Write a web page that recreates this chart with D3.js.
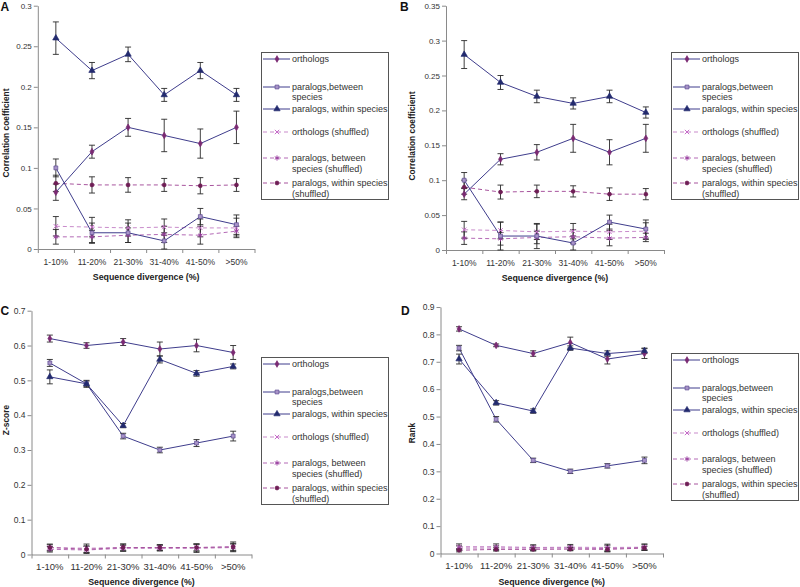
<!DOCTYPE html>
<html><head><meta charset="utf-8">
<script src="https://cdn.jsdelivr.net/npm/d3@7/dist/d3.min.js"></script>
<style>body{margin:0;background:#fff}svg{display:block;font-family:"Liberation Sans",Arial,sans-serif}</style>
</head><body>
<script>
const categories = ["1-10%","11-20%","21-30%","31-40%","41-50%",">50%"];
const seriesNames = ["orthologs","paralogs,between species","paralogs, within species","orthologs (shuffled)","paralogs, between species (shuffled)","paralogs, within species (shuffled)"];
const legendLines = [["orthologs"],["paralogs,between","species"],["paralogs, within species"],["orthologs (shuffled)"],["paralogs, between","species (shuffled)"],["paralogs, within species","(shuffled)"]];

// Panel A: correlation coefficient
const valuesA = [
 [0.07,0.12,0.15,0.14,0.13,0.15],
 [0.10,0.02,0.02,0.01,0.04,0.03],
 [0.26,0.22,0.24,0.19,0.22,0.19],
 [0.028,0.027,0.026,0.027,0.026,0.026],
 [0.015,0.015,0.017,0.018,0.017,0.022],
 [0.081,0.079,0.079,0.079,0.078,0.079]];
const errorsA = [
 [0.01,0.008,0.011,0.02,0.018,0.02],
 [0.011,0.012,0.012,0.01,0.01,0.012],
 [0.02,0.01,0.009,0.008,0.01,0.008],
 [0.012,0.012,0.01,0.01,0.011,0.012],
 [0.009,0.008,0.009,0.01,0.011,0.006],
 [0.01,0.01,0.009,0.008,0.01,0.008]];
const ticksA = [0,0.05,0.1,0.15,0.2,0.25,0.3];

// Panel B: correlation coefficient
const valuesB = [
 [0.08,0.13,0.14,0.16,0.14,0.16],
 [0.10,0.02,0.02,0.01,0.04,0.03],
 [0.28,0.24,0.22,0.21,0.22,0.197],
 [0.029,0.028,0.026,0.027,0.026,0.027],
 [0.017,0.016,0.018,0.019,0.017,0.018],
 [0.09,0.083,0.084,0.084,0.08,0.08]];
const errorsB = [
 [0.008,0.008,0.011,0.02,0.018,0.02],
 [0.011,0.02,0.018,0.01,0.01,0.013],
 [0.02,0.01,0.009,0.008,0.009,0.008],
 [0.012,0.012,0.011,0.011,0.011,0.012],
 [0.009,0.009,0.009,0.01,0.011,0.006],
 [0.01,0.01,0.009,0.008,0.009,0.008]];
const ticksB = [0,0.05,0.1,0.15,0.2,0.25,0.3,0.35];

// Panel C: Z-score
const valuesC = [
 [0.62,0.60,0.61,0.59,0.60,0.58],
 [0.55,0.49,0.34,0.30,0.32,0.34],
 [0.51,0.49,0.37,0.56,0.52,0.54],
 [0.02,0.018,0.02,0.02,0.02,0.022],
 [0.015,0.013,0.018,0.018,0.018,0.02],
 [0.02,0.015,0.02,0.02,0.02,0.022]];
const errorsC = [
 [0.01,0.008,0.01,0.02,0.018,0.02],
 [0.01,0.008,0.008,0.008,0.01,0.014],
 [0.02,0.01,0.006,0.01,0.008,0.007],
 [0.01,0.012,0.01,0.008,0.01,0.014],
 [0.008,0.01,0.008,0.008,0.012,0.01],
 [0.008,0.01,0.01,0.008,0.01,0.01]];
const ticksC = [0,0.1,0.2,0.3,0.4,0.5,0.6,0.7];

// Panel D: Rank
const valuesD = [
 [0.82,0.76,0.73,0.77,0.71,0.73],
 [0.75,0.49,0.34,0.30,0.32,0.34],
 [0.71,0.55,0.52,0.75,0.73,0.74],
 [0.025,0.025,0.022,0.023,0.022,0.023],
 [0.02,0.02,0.02,0.02,0.018,0.022],
 [0.012,0.015,0.015,0.016,0.015,0.02]];
const errorsD = [
 [0.008,0.005,0.01,0.02,0.018,0.018],
 [0.01,0.01,0.008,0.008,0.008,0.012],
 [0.018,0.008,0.008,0.008,0.01,0.01],
 [0.01,0.01,0.01,0.01,0.012,0.012],
 [0.008,0.008,0.008,0.008,0.012,0.01],
 [0.006,0.006,0.006,0.006,0.008,0.006]];
const ticksD = [0,0.1,0.2,0.3,0.4,0.5,0.6,0.7,0.8,0.9];

const xTitle = "Sequence divergence (%)";

// styles per series
const seriesStyle = [
 {line:"#3f3d8c", dash:null, sym:d3.symbolDiamond, size:13, fill:"#7a2a72", stroke:"#7a2a72"},
 {line:"#3f3d8c", dash:null, sym:d3.symbolSquare, size:15, fill:"#a893c8", stroke:"#5c4c92"},
 {line:"#3f3d8c", dash:null, sym:d3.symbolTriangle, size:17, fill:"#222a6e", stroke:"#222a6e"},
 {line:"#c98bcb", dash:"4,3", sym:d3.symbolTimes, size:14, fill:"none", stroke:"#c66ac8"},
 {line:"#b46ab6", dash:"4,3", sym:d3.symbolAsterisk, size:18, fill:"none", stroke:"#9a3fa0"},
 {line:"#a8559e", dash:"4,3", sym:d3.symbolCircle, size:12, fill:"#6e1d55", stroke:"#6e1d55"}
];

const panels = [
 {letter:"A", values:valuesA, errors:errorsA, ticks:ticksA, yMax:0.3, yTitle:"Correlation coefficient",
  x0:37.8, x1:254.5, yTop:5.7, yBot:249, lx:0.5, ly:11, ytx:9, yty:133, lgx:261, lgy:52,
  fsTick:8, fsCat:8.5, catPad:10, titleOff:31},
 {letter:"B", values:valuesB, errors:errorsB, ticks:ticksB, yMax:0.35, yTitle:"Correlation coefficient",
  x0:446, x1:664, yTop:5.7, yBot:250, lx:400, ly:11, ytx:415, yty:136, lgx:671, lgy:52,
  fsTick:8, fsCat:8.5, catPad:10, titleOff:31},
 {letter:"C", values:valuesC, errors:errorsC, ticks:ticksC, yMax:0.7, yTitle:"Z-score",
  x0:31.5, x1:251.5, yTop:310.7, yBot:554.5, lx:0.5, ly:315, ytx:9, yty:420, lgx:261, lgy:357,
  fsTick:8.5, fsCat:9.5, catPad:9, titleOff:30.5},
 {letter:"D", values:valuesD, errors:errorsD, ticks:ticksD, yMax:0.9, yTitle:"Rank",
  x0:440.5, x1:663, yTop:307, yBot:553.5, lx:401, ly:315, ytx:415, yty:433, lgx:671, lgy:353,
  fsTick:8.5, fsCat:9.5, catPad:9, titleOff:31.5}
];

const svg = d3.select("body").append("svg").attr("width",800).attr("height",587);
svg.append("rect").attr("width",800).attr("height",587).attr("fill","#fff");

const fmt = v => String(+v.toFixed(2));

panels.forEach(p => {
  const g = svg.append("g");
  const x = d3.scaleBand().domain(categories).range([p.x0, p.x1]).padding(0);
  const xi = d3.scaleLinear().domain([0, categories.length]).range([p.x0, p.x1]);
  const y = d3.scaleLinear().domain([0, p.yMax]).range([p.yBot, p.yTop]);
  const cx = c => x(c) + x.bandwidth()/2;

  // y axis
  const ya = g.append("g").attr("transform",`translate(${p.x0},0)`)
    .call(d3.axisLeft(y).tickValues(p.ticks).tickFormat(fmt).tickSize(4).tickSizeOuter(0).tickPadding(2));
  ya.select(".domain").attr("stroke","#8a8a8a");
  ya.selectAll(".tick line").attr("stroke","#8a8a8a");
  ya.selectAll(".tick text").attr("fill","#333").style("font-size",p.fsTick+"px").style("font-family","Liberation Sans, Arial, sans-serif");

  // x axis: tick marks at band boundaries
  const xb = g.append("g").attr("transform",`translate(0,${p.yBot})`)
    .call(d3.axisBottom(xi).tickValues(d3.range(categories.length+1)).tickFormat("").tickSize(4).tickSizeOuter(0));
  xb.select(".domain").attr("stroke","#8a8a8a");
  xb.selectAll(".tick line").attr("stroke","#8a8a8a");
  // category labels
  const xl = g.append("g").attr("transform",`translate(0,${p.yBot})`)
    .call(d3.axisBottom(x).tickSize(0).tickPadding(p.catPad));
  xl.select(".domain").remove();
  xl.selectAll(".tick text").attr("fill","#333").style("font-size",p.fsCat+"px").style("font-family","Liberation Sans, Arial, sans-serif");

  // titles
  g.append("text").attr("x",(p.x0+p.x1)/2).attr("y",p.yBot + p.titleOff)
    .attr("text-anchor","middle").style("font-weight","bold").style("font-size","8.8px").attr("fill","#222").text(xTitle);
  g.append("text").attr("transform",`translate(${p.ytx},${p.yty}) rotate(-90)`)
    .attr("text-anchor","middle").style("font-weight","bold").style("font-size","8.4px").attr("fill","#222").text(p.yTitle);
  g.append("text").attr("x",p.lx).attr("y",p.ly).style("font-weight","bold").style("font-size","12px").attr("fill","#111").text(p.letter);

  // series: dashed (shuffled) first, then solid
  const order = [3,4,5,0,1,2];
  const line = d3.line().x((d,i)=>cx(categories[i])).y(d=>y(d));
  order.forEach(s => {
    const st = seriesStyle[s];
    g.append("path").datum(p.values[s]).attr("d",line).attr("fill","none")
      .attr("stroke",st.line).attr("stroke-width",1).attr("stroke-dasharray",st.dash);
  });
  order.forEach(s => {
    const vals = p.values[s], errs = p.errors[s];
    const eb = g.append("g").attr("stroke","#2a2a2a").attr("stroke-width",0.9);
    vals.forEach((v,i) => {
      const xc = cx(categories[i]);
      const y1 = y(v + errs[i]), y2 = y(Math.max(0, v - errs[i]));
      eb.append("line").attr("x1",xc).attr("x2",xc).attr("y1",y1).attr("y2",y2);
      eb.append("line").attr("x1",xc-3).attr("x2",xc+3).attr("y1",y1).attr("y2",y1);
      eb.append("line").attr("x1",xc-3).attr("x2",xc+3).attr("y1",y2).attr("y2",y2);
    });
  });
  order.forEach(s => {
    const st = seriesStyle[s];
    const sym = d3.symbol().type(st.sym).size(st.size);
    g.append("g").selectAll("path").data(p.values[s]).join("path")
      .attr("transform",(d,i)=>`translate(${cx(categories[i])},${y(d)})`)
      .attr("d",sym).attr("fill",st.fill).attr("stroke",st.stroke).attr("stroke-width",st.fill==="none"?1:0.7);
  });

  // legend
  const lg = g.append("g").attr("transform",`translate(${p.lgx},${p.lgy})`);
  lg.append("rect").attr("x",0.5).attr("y",0.5).attr("width",127).attr("height",147).attr("fill","#fff").attr("stroke","#555").attr("stroke-width",1);
  const offsets = [[7],[35,45],[57],[80],[106,117],[131,142]];
  legendLines.forEach((lines,s) => {
    const st = seriesStyle[s];
    const yy = offsets[s][0];
    lg.append("line").attr("x1",2).attr("x2",29).attr("y1",yy).attr("y2",yy)
      .attr("stroke",st.line).attr("stroke-width",1).attr("stroke-dasharray",st.dash);
    lg.append("path").attr("transform",`translate(16,${yy})`).attr("d",d3.symbol().type(st.sym).size(st.size)())
      .attr("fill",st.fill).attr("stroke",st.stroke).attr("stroke-width",st.fill==="none"?1:0.7);
    lines.forEach((t,k) => {
      lg.append("text").attr("x",31).attr("y",offsets[s][k]).attr("dy","0.35em")
        .style("font-size","9px").attr("fill","#333").text(t);
    });
  });
});
</script>
</body></html>
